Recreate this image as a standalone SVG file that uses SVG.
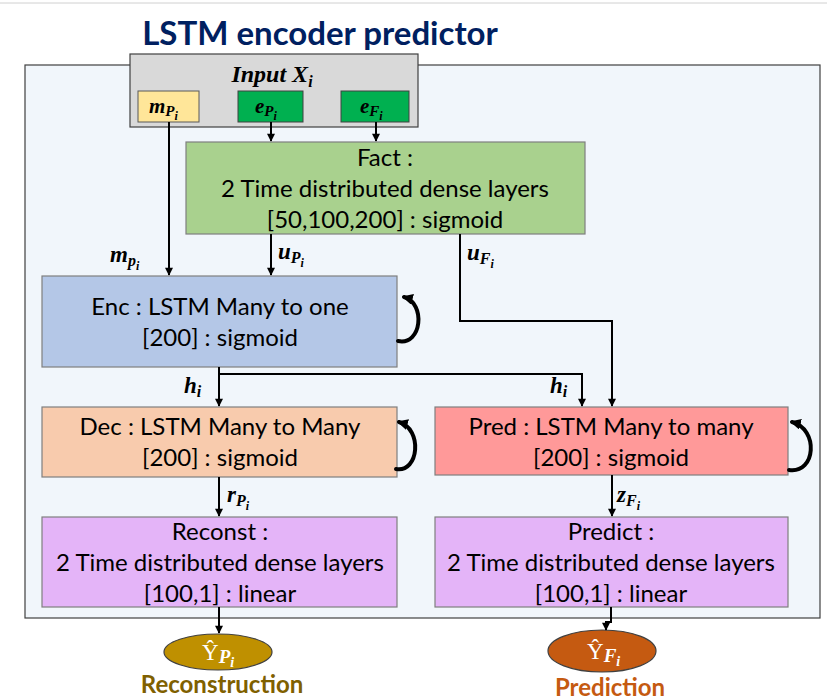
<svg xmlns="http://www.w3.org/2000/svg" width="827" height="700" viewBox="0 0 827 700">
<defs>
<style>
.box{stroke:#7f7f7f;stroke-width:1.2}
.t{font-family:Lato,"Open Sans","Liberation Sans",sans-serif;font-size:24px;fill:#000;text-anchor:middle}
.m{font-family:"Liberation Serif","DejaVu Serif",serif;font-weight:bold;font-style:italic;fill:#000}
.c{fill:none;stroke:#000;stroke-width:2}
.loop{fill:none;stroke:#000;stroke-width:4;stroke-linecap:round}
</style>
<marker id="ah" viewBox="0 0 10 10" refX="9" refY="5" markerWidth="9" markerHeight="8" orient="auto-start-reverse" markerUnits="userSpaceOnUse">
<path d="M0,0 L10,5 L0,10 z" fill="#000"/>
</marker>
<marker id="ah2" viewBox="0 0 10 10" refX="8" refY="5" markerWidth="11" markerHeight="11" orient="auto" markerUnits="userSpaceOnUse">
<path d="M0,0 L10,5 L0,10 z" fill="#000"/>
</marker>
</defs>
<rect width="827" height="700" fill="#fff"/>
<line x1="0" y1="3" x2="827" y2="3" stroke="#d0d0d0" stroke-width="1"/>
<text x="320" y="45" style="font-family:Lato,'Open Sans',sans-serif;font-weight:bold;font-size:33px;fill:#002060" text-anchor="middle">LSTM encoder predictor</text>

<g id="container"><rect x="25" y="65" width="795" height="553" fill="#f1f6fb" stroke="#404040" stroke-width="1.2"/></g>

<g id="input">
<rect x="130" y="54" width="288" height="73" fill="#d9d9d9" stroke="#404040" stroke-width="1.2"/>
<text class="m" x="272" y="82" font-size="24" text-anchor="middle">Input <tspan>X</tspan><tspan font-size="16" dy="5">i</tspan></text>
</g>
<g id="mP">
<rect x="138" y="91" width="61" height="31" fill="#ffe699" stroke="#595959" stroke-width="1"/>
<text class="m" x="149" y="113" font-size="21">m<tspan font-size="15" dy="3">P</tspan><tspan font-size="12" dy="4">i</tspan></text>
</g>
<g id="eP">
<rect x="238" y="91" width="65" height="31" fill="#00b050" stroke="#404040" stroke-width="1"/>
<text class="m" x="255" y="113" font-size="21">e<tspan font-size="15" dy="3">P</tspan><tspan font-size="12" dy="4">i</tspan></text>
</g>
<g id="eF">
<rect x="341" y="91" width="68" height="31" fill="#00b050" stroke="#404040" stroke-width="1"/>
<text class="m" x="360" y="113" font-size="21">e<tspan font-size="15" dy="3">F</tspan><tspan font-size="12" dy="4">i</tspan></text>
</g>

<g id="fact">
<rect class="box" x="186" y="142" width="399" height="92" fill="#a9d18e"/>
<text class="t" x="385" y="166">Fact :</text>
<text class="t" x="385" y="197">2 Time distributed dense layers</text>
<text class="t" x="385" y="228">[50,100,200] : sigmoid</text>
</g>

<g id="enc">
<rect class="box" x="42" y="276" width="355" height="91" fill="#b4c7e7"/>
<text class="t" x="220" y="315">Enc : LSTM Many to one</text>
<text class="t" x="220" y="346">[200] : sigmoid</text>
</g>

<g id="dec">
<rect class="box" x="42" y="407" width="355" height="70" fill="#f8cbad"/>
<text class="t" x="220" y="435">Dec : LSTM Many to Many</text>
<text class="t" x="220" y="466">[200] : sigmoid</text>
</g>

<g id="pred">
<rect class="box" x="435" y="407" width="353" height="68" fill="#ff9999"/>
<text class="t" x="611" y="435">Pred : LSTM Many to many</text>
<text class="t" x="611" y="466">[200] : sigmoid</text>
</g>

<g id="reconst">
<rect class="box" x="42" y="517" width="355" height="90" fill="#e4b4f8"/>
<text class="t" x="220" y="540">Reconst :</text>
<text class="t" x="220" y="571">2 Time distributed dense layers</text>
<text class="t" x="220" y="602">[100,1] : linear</text>
</g>

<g id="predict">
<rect class="box" x="435" y="517" width="353" height="90" fill="#e4b4f8"/>
<text class="t" x="611" y="540">Predict :</text>
<text class="t" x="611" y="571">2 Time distributed dense layers</text>
<text class="t" x="611" y="602">[100,1] : linear</text>
</g>

<g id="outP">
<ellipse cx="218" cy="652" rx="54" ry="18" fill="#bf9000" stroke="#404040" stroke-width="1.2"/>
<text x="202" y="660" style="font-family:'Liberation Serif',serif;font-size:23px;fill:#fff">Ŷ<tspan font-weight="bold" font-style="italic" font-size="19" dy="3">P</tspan><tspan font-weight="bold" font-style="italic" font-size="14" dy="4">i</tspan></text>
<text x="222" y="693" text-anchor="middle" style="font-family:Lato,'Open Sans',sans-serif;font-weight:bold;font-size:24px;fill:#7f6000">Reconstruction</text>
</g>

<g id="outF">
<ellipse cx="602" cy="651" rx="54" ry="21" fill="#c55a11" stroke="#404040" stroke-width="1.2"/>
<text x="587" y="659" style="font-family:'Liberation Serif',serif;font-size:23px;fill:#fff">Ŷ<tspan font-weight="bold" font-style="italic" font-size="19" dy="3">F</tspan><tspan font-weight="bold" font-style="italic" font-size="14" dy="4">i</tspan></text>
<text x="610" y="696" text-anchor="middle" style="font-family:Lato,'Open Sans',sans-serif;font-weight:bold;font-size:24px;fill:#c55a11">Prediction</text>
</g>

<g id="connectors">
<path class="c" d="M169,122 V275" marker-end="url(#ah)"/>
<path class="c" d="M271,122 V141" marker-end="url(#ah)"/>
<path class="c" d="M376,122 V141" marker-end="url(#ah)"/>
<path class="c" d="M271,234 V275" marker-end="url(#ah)"/>
<path class="c" d="M460,234 V321 H612 V406" marker-end="url(#ah)"/>
<path class="c" d="M219,367 V406" marker-end="url(#ah)"/>
<path class="c" d="M219,374 H582 V406" marker-end="url(#ah)"/>
<path class="c" d="M219,477 V516" marker-end="url(#ah)"/>
<path class="c" d="M612,475 V516" marker-end="url(#ah)"/>
<path class="c" d="M219,607 V633" marker-end="url(#ah)"/>
<path class="c" d="M611,607 V622 H606 V630" marker-end="url(#ah)"/>
<path class="loop" d="M398,341 C422,346 426,303 404,297" marker-end="url(#ah2)"/>
<path class="loop" d="M396,469 C419,473 423,429 399,422" marker-end="url(#ah2)"/>
<path class="loop" d="M789,470 C816,474 819,429 792,422" marker-end="url(#ah2)"/>
<text class="m" x="110" y="262" font-size="23">m<tspan font-size="16" dy="4">p</tspan><tspan font-size="12" dy="4">i</tspan></text>
<text class="m" x="278" y="259" font-size="23">u<tspan font-size="16" dy="4">P</tspan><tspan font-size="12" dy="4">i</tspan></text>
<text class="m" x="467" y="260" font-size="23">u<tspan font-size="16" dy="4">F</tspan><tspan font-size="12" dy="4">i</tspan></text>
<text class="m" x="184" y="393" font-size="23">h<tspan font-size="16" dy="4">i</tspan></text>
<text class="m" x="550" y="393" font-size="23">h<tspan font-size="16" dy="4">i</tspan></text>
<text class="m" x="227" y="502" font-size="23">r<tspan font-size="16" dy="4">P</tspan><tspan font-size="12" dy="4">i</tspan></text>
<text class="m" x="617" y="502" font-size="23">z<tspan font-size="16" dy="4">F</tspan><tspan font-size="12" dy="4">i</tspan></text>
</g>
</svg>
